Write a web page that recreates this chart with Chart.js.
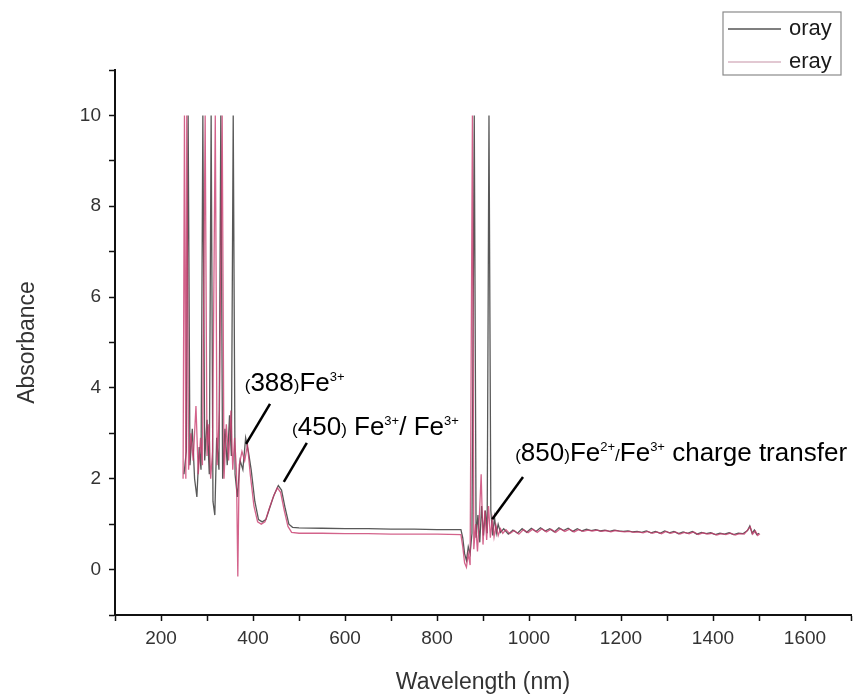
<!DOCTYPE html>
<html lang="en">
<head>
    <meta charset="UTF-8">
    <title>Absorbance spectrum</title>
    <script src="https://cdn.jsdelivr.net/npm/chart.js"></script>
    <style>
        body { margin: 0; background: #fff; }
        #wrap { width: 862px; height: 700px; }
    </style>
</head>
<body>
    <div id="wrap"><canvas id="specChart" width="862" height="700"></canvas></div>

    <script>
        // wavelength (nm) and absorbance
        const orayNm = [250, 255, 259, 263, 268, 273, 278, 283, 287, 291, 295, 300, 305, 309, 313, 317, 321, 326, 330, 334,
            339, 344, 349, 353, 357, 361, 366, 372, 378, 384, 390, 396, 404, 412, 420, 428, 436, 446, 455, 462,
            470, 478, 486, 500, 550, 600, 650, 700, 750, 800, 852, 856, 860, 864, 868, 872, 876, 881, 885, 889,
            893, 897, 901, 905, 909, 913, 917, 921, 925, 929, 933, 938, 945, 955, 965, 975, 985, 995, 1005, 1015,
            1025, 1035, 1045, 1055, 1065, 1075, 1085, 1095, 1105, 1115, 1125, 1135, 1145, 1155, 1165, 1175, 1185, 1195,
            1205, 1215, 1225, 1235, 1245, 1255, 1265, 1275, 1285, 1295, 1305, 1315, 1325, 1335, 1345, 1355, 1365, 1375,
            1385, 1395, 1405, 1415, 1425, 1435, 1445, 1455, 1465, 1475, 1480, 1485, 1490, 1495, 1500];
        const orayAbs = [2.1, 2.6, 10, 2.3, 3.1, 2.0, 1.6, 2.7, 2.2, 10, 2.4, 3.3, 2.1, 10, 1.5, 1.2, 2.9, 2.2, 10, 2.0,
            3.1, 2.3, 3.4, 2.5, 10, 2.1, 1.6, 2.4, 2.2, 2.9, 2.6, 2.2, 1.5, 1.1, 1.05, 1.1, 1.35, 1.65, 1.85, 1.75,
            1.35, 1.0, 0.93, 0.92, 0.91, 0.9, 0.9, 0.89, 0.89, 0.88, 0.88, 0.7, 0.35, 0.2, 0.5, 0.35, 0.8, 10, 0.7, 1.2,
            0.6, 1.4, 0.75, 1.3, 0.8, 10, 1.3, 0.75, 1.15, 0.8, 1.0, 0.82, 0.9, 0.78, 0.87, 0.8, 0.9, 0.82, 0.91, 0.84,
            0.92, 0.85, 0.9, 0.83, 0.92, 0.86, 0.91, 0.84, 0.9, 0.85, 0.89, 0.86, 0.88, 0.85, 0.87, 0.84, 0.87, 0.85,
            0.84, 0.85, 0.83, 0.84, 0.82, 0.85, 0.81, 0.84, 0.8, 0.85, 0.81, 0.84, 0.79, 0.83, 0.8, 0.84, 0.78, 0.82,
            0.79, 0.81, 0.77, 0.8, 0.78, 0.81, 0.77, 0.8, 0.79, 0.86, 0.96, 0.8, 0.87, 0.77, 0.8];

        const erayNm = [248, 251, 254, 256, 260, 265, 270, 276, 281, 286, 290, 296, 300, 304, 308, 312, 318, 322, 327, 333,
            337, 342, 347, 352, 356, 360, 364, 367, 370, 376, 382, 388, 394, 402, 410, 418, 426, 434, 444, 453,
            460, 468, 476, 484, 500, 550, 600, 650, 700, 750, 800, 852, 856, 860, 864, 868, 872, 877, 880, 884,
            888, 892, 896, 900, 904, 908, 912, 916, 920, 924, 928, 933, 938, 943, 950, 958, 968, 978, 988, 998,
            1008, 1018, 1028, 1038, 1048, 1058, 1068, 1078, 1088, 1098, 1108, 1118, 1128, 1138, 1148, 1158, 1168, 1178,
            1188, 1198, 1208, 1218, 1228, 1238, 1248, 1258, 1268, 1278, 1288, 1298, 1308, 1318, 1328, 1338, 1348, 1358,
            1368, 1378, 1388, 1398, 1408, 1418, 1428, 1438, 1448, 1458, 1468, 1476, 1481, 1486, 1492, 1497, 1502];
        const erayAbs = [2.0, 10, 2.0, 10, 2.2, 3.0, 2.4, 3.6, 2.1, 2.9, 2.3, 10, 2.5, 3.2, 2.0, 2.6, 10, 2.3, 3.5, 10,
            2.0, 3.2, 2.4, 3.5, 2.2, 2.9, 2.2, -0.15, 2.3, 2.6, 2.4, 2.75, 2.1, 1.4, 1.05, 1.0, 1.05, 1.3, 1.6, 1.8,
            1.7, 1.3, 0.95, 0.82, 0.8, 0.8, 0.79, 0.79, 0.78, 0.78, 0.78, 0.77, 0.5, 0.15, 0.05, 0.35, 0.1, 10, 0.45, 1.0,
            0.4, 1.15, 2.1, 0.55, 1.3, 0.65, 1.4, 0.7, 1.1, 0.72, 0.98, 0.75, 0.9, 0.8, 0.88, 0.79, 0.86, 0.78, 0.88, 0.81,
            0.89, 0.82, 0.9, 0.83, 0.89, 0.82, 0.9, 0.84, 0.89, 0.83, 0.88, 0.84, 0.87, 0.85, 0.87, 0.84, 0.86, 0.83,
            0.86, 0.84, 0.83, 0.84, 0.82, 0.83, 0.81, 0.84, 0.8, 0.83, 0.79, 0.84, 0.8, 0.83, 0.78, 0.82, 0.79, 0.83,
            0.77, 0.81, 0.78, 0.8, 0.76, 0.79, 0.77, 0.8, 0.76, 0.79, 0.78, 0.88, 0.94, 0.78, 0.85, 0.75, 0.79];

        const seriesNames = ['oray', 'eray'];
        const xTitle = 'Wavelength (nm)';
        const yTitle = 'Absorbance';

        // peak labels: text anchor and leader line, in data units
        const notes = [
            { at: [382, 3.93], from: [437, 3.65], to: [385, 2.77],
              runs: [['(', 'p'], ['388', 'n'], [')', 'p'], ['Fe', 'n'], ['3+', 's']] },
            { at: [485, 2.96], from: [517, 2.79], to: [467, 1.93],
              runs: [['(', 'p'], ['450', 'n'], [')', 'p'], [' Fe', 'n'], ['3+', 's'], ['/ Fe', 'n'], ['3+', 's']] },
            { at: [970, 2.39], from: [987, 2.04], to: [920, 1.11],
              runs: [['(', 'p'], ['850', 'n'], [')', 'p'], ['Fe', 'n'], ['2+', 's'], ['/', 'p'], ['Fe', 'n'], ['3+', 's'], [' charge transfer', 'n']] }
        ];

        const FONT = "'Liberation Sans', Arial, sans-serif";
        const runFont = { n: 26, p: 17, s: 13 };

        function toPoints(xs, ys) {
            return xs.map((x, i) => ({ x: x, y: ys[i] }));
        }

        const notePlugin = {
            id: 'notes',
            afterDatasetsDraw(chart) {
                const ctx = chart.ctx;
                const xs = chart.scales.x, ys = chart.scales.y;
                ctx.save();
                ctx.fillStyle = '#000';
                ctx.strokeStyle = '#000';
                ctx.lineWidth = 2.5;
                ctx.textBaseline = 'alphabetic';
                notes.forEach(n => {
                    ctx.beginPath();
                    ctx.moveTo(xs.getPixelForValue(n.from[0]), ys.getPixelForValue(n.from[1]));
                    ctx.lineTo(xs.getPixelForValue(n.to[0]), ys.getPixelForValue(n.to[1]));
                    ctx.stroke();
                    let px = xs.getPixelForValue(n.at[0]);
                    const base = ys.getPixelForValue(n.at[1]);
                    n.runs.forEach(r => {
                        ctx.font = runFont[r[1]] + 'px ' + FONT;
                        const dy = r[1] === 's' ? -10 : 0;
                        ctx.fillText(r[0], px, base + dy);
                        px += ctx.measureText(r[0]).width;
                    });
                });
                ctx.restore();
            }
        };

        const legendPlugin = {
            id: 'boxLegend',
            afterDraw(chart) {
                const ctx = chart.ctx;
                const left = 723, top = 12, w = 118, h = 63;
                ctx.save();
                ctx.strokeStyle = '#8a8a8a';
                ctx.lineWidth = 1.2;
                ctx.strokeRect(left, top, w, h);
                ctx.font = '22px ' + FONT;
                ctx.textBaseline = 'middle';
                chart.data.datasets.forEach((ds, i) => {
                    const yy = top + 17 + i * 33;
                    ctx.strokeStyle = i === 0 ? '#555' : '#d9b6c3';
                    ctx.lineWidth = 1.5;
                    ctx.beginPath();
                    ctx.moveTo(left + 5, yy);
                    ctx.lineTo(left + 58, yy);
                    ctx.stroke();
                    ctx.fillStyle = '#1a1a1a';
                    ctx.fillText(ds.label, left + 66, yy);
                });
                ctx.restore();
            }
        };

        new Chart(document.getElementById('specChart'), {
            type: 'line',
            data: {
                datasets: [
                    {
                        label: seriesNames[0],
                        data: toPoints(orayNm, orayAbs),
                        borderColor: 'rgba(70, 70, 70, 0.9)',
                        borderWidth: 1.3,
                        pointRadius: 0,
                        tension: 0,
                        order: 2
                    },
                    {
                        label: seriesNames[1],
                        data: toPoints(erayNm, erayAbs),
                        borderColor: 'rgba(200, 60, 110, 0.8)',
                        borderWidth: 1.3,
                        pointRadius: 0,
                        tension: 0,
                        order: 1
                    }
                ]
            },
            options: {
                responsive: false,
                animation: false,
                devicePixelRatio: 1,
                layout: { padding: { top: 70, right: 11, left: 0, bottom: 0 } },
                plugins: {
                    legend: { display: false },
                    tooltip: { enabled: false }
                },
                scales: {
                    x: {
                        type: 'linear',
                        min: 100,
                        max: 1700,
                        afterFit(scale) { scale.height = 85; },
                        ticks: {
                            stepSize: 100,
                            autoSkip: false,
                            maxRotation: 0,
                            padding: 6,
                            color: '#333',
                            font: { family: FONT, size: 19 },
                            callback: v => (v % 200 === 0 ? String(v) : '')
                        },
                        grid: { drawOnChartArea: false, tickLength: 6, tickColor: '#111', tickWidth: 1.5 },
                        border: { color: '#111', width: 2 },
                        title: {
                            display: true,
                            text: xTitle,
                            color: '#333',
                            font: { family: FONT, size: 23 },
                            padding: { top: 0, bottom: 4 }
                        }
                    },
                    y: {
                        min: -1,
                        max: 11,
                        afterFit(scale) { scale.width = 115; },
                        ticks: {
                            stepSize: 1,
                            autoSkip: false,
                            padding: 8,
                            color: '#333',
                            font: { family: FONT, size: 19 },
                            callback: v => (v >= 0 && v <= 10 && v % 2 === 0 ? String(v) : '')
                        },
                        grid: { drawOnChartArea: false, tickLength: 6, tickColor: '#111', tickWidth: 1.5 },
                        border: { color: '#111', width: 2 },
                        title: {
                            display: true,
                            text: yTitle,
                            color: '#333',
                            font: { family: FONT, size: 23 },
                            padding: { top: 14, bottom: 0 }
                        }
                    }
                }
            },
            plugins: [notePlugin, legendPlugin]
        });
    </script>
</body>
</html>
